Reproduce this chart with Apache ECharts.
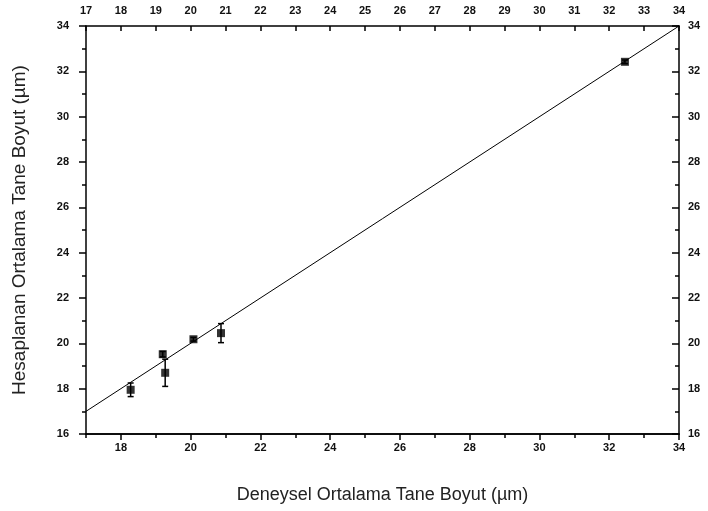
<!DOCTYPE html>
<html>
<head>
<meta charset="utf-8">
<script src="https://cdn.jsdelivr.net/npm/echarts@6/dist/echarts.min.js"></script>
<style>
  html, body { margin: 0; padding: 0; background: #fff; }
  #chart { width: 708px; height: 511px; }
</style>
</head>
<body>
<div id="chart"></div>
<script>
// Measured (deneysel) and calculated (hesaplanan) mean grain sizes, µm
const deneysel = [18.28, 19.2, 19.27, 20.08, 20.87, 32.45];
const hesaplanan = [17.95, 19.52, 18.7, 20.18, 20.45, 32.42];
const hata = [0.3, 0.12, 0.6, 0.08, 0.42, 0.08];

// y = x reference line end points
const esitlikX = [17, 34];

// Tick positions
const altEtiketler = [18, 20, 22, 24, 26, 28, 30, 32, 34];
const altAraTikler = [17, 19, 21, 23, 25, 27, 29, 31, 33];
const ustEtiketler = [17, 18, 19, 20, 21, 22, 23, 24, 25, 26, 27, 28, 29, 30, 31, 32, 33, 34];

const tickFont = {
  fontFamily: 'Liberation Sans',
  fontWeight: 'bold',
  fontSize: 11,
  color: '#111'
};
const axisLine = { show: true, lineStyle: { color: '#000', width: 1.5 } };

const chart = echarts.init(document.getElementById('chart'), null, { renderer: 'canvas' });

chart.setOption({
  animation: false,
  backgroundColor: '#fff',
  grid: { left: 86, right: 29, top: 26, bottom: 77 },
  xAxis: [
    {
      type: 'value', position: 'bottom', min: 17, max: 34,
      name: 'Deneysel Ortalama Tane Boyut (µm)',
      nameLocation: 'middle', nameGap: 52,
      nameTextStyle: { fontFamily: 'Liberation Sans', fontSize: 18, color: '#222' },
      axisLine,
      splitLine: { show: false },
      axisTick: { show: true, inside: false, length: 6, customValues: altEtiketler, lineStyle: { color: '#000', width: 1.5 } },
      axisLabel: Object.assign({ margin: 8, customValues: altEtiketler }, tickFont)
    },
    {
      type: 'value', position: 'bottom', min: 17, max: 34,
      axisLine,
      splitLine: { show: false },
      axisTick: { show: true, inside: false, length: 4, customValues: altAraTikler, lineStyle: { color: '#000', width: 1.5 } },
      axisLabel: { show: false }
    },
    {
      type: 'value', position: 'top', min: 17, max: 34,
      axisLine,
      splitLine: { show: false },
      axisTick: { show: true, inside: true, length: 5, customValues: ustEtiketler, lineStyle: { color: '#000', width: 1.5 } },
      axisLabel: Object.assign({ margin: 10, customValues: ustEtiketler }, tickFont)
    }
  ],
  yAxis: [
    {
      type: 'value', position: 'left', min: 16, max: 34, interval: 2,
      name: 'Hesaplanan Ortalama Tane Boyut (µm)',
      nameLocation: 'middle', nameGap: 57,
      nameTextStyle: { fontFamily: 'Liberation Sans', fontSize: 19, color: '#222' },
      axisLine,
      splitLine: { show: false },
      axisTick: { show: true, inside: false, length: 7, lineStyle: { color: '#000', width: 1.5 } },
      minorTick: { show: true, splitNumber: 2, length: 4, lineStyle: { color: '#000', width: 1.5 } },
      minorSplitLine: { show: false },
      axisLabel: Object.assign({ margin: 17 }, tickFont)
    },
    {
      type: 'value', position: 'right', min: 16, max: 34, interval: 2,
      axisLine,
      splitLine: { show: false },
      axisTick: { show: true, inside: true, length: 7, lineStyle: { color: '#000', width: 1.5 } },
      minorTick: { show: true, splitNumber: 2, length: 4, lineStyle: { color: '#000', width: 1.5 } },
      minorSplitLine: { show: false },
      axisLabel: Object.assign({ margin: 9 }, tickFont)
    }
  ],
  series: [
    {
      type: 'line',
      xAxisIndex: 0, yAxisIndex: 0,
      data: esitlikX.map(v => [v, v]),
      symbol: 'none',
      lineStyle: { color: '#000', width: 1 },
      silent: true
    },
    {
      // vertical error bars with caps
      type: 'custom',
      xAxisIndex: 0, yAxisIndex: 0,
      data: deneysel.map((x, i) => [x, hesaplanan[i] - hata[i], hesaplanan[i] + hata[i]]),
      renderItem: function (params, api) {
        const lo = api.coord([api.value(0), api.value(1)]);
        const hi = api.coord([api.value(0), api.value(2)]);
        const w = 3;
        const style = { stroke: '#000', lineWidth: 1.5 };
        return {
          type: 'group',
          children: [
            { type: 'line', shape: { x1: lo[0], y1: lo[1], x2: hi[0], y2: hi[1] }, style },
            { type: 'line', shape: { x1: lo[0] - w, y1: lo[1], x2: lo[0] + w, y2: lo[1] }, style },
            { type: 'line', shape: { x1: hi[0] - w, y1: hi[1], x2: hi[0] + w, y2: hi[1] }, style }
          ]
        };
      },
      z: 3
    },
    {
      type: 'scatter',
      xAxisIndex: 0, yAxisIndex: 0,
      data: deneysel.map((x, i) => [x, hesaplanan[i]]),
      symbol: 'rect',
      symbolSize: 8,
      itemStyle: { color: '#000' },
      z: 4
    }
  ]
});
</script>
</body>
</html>
